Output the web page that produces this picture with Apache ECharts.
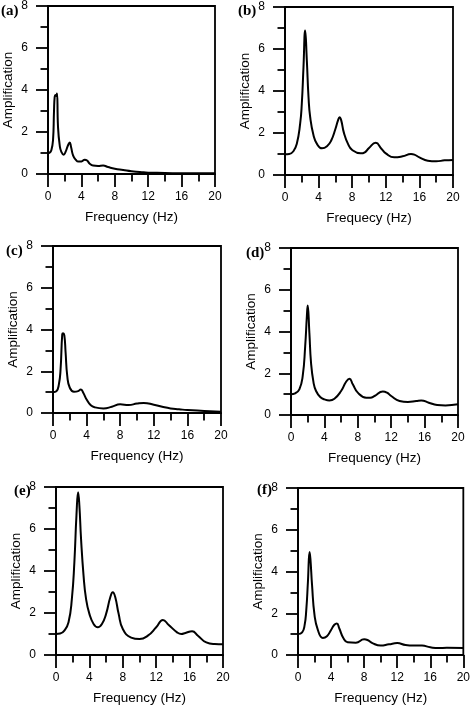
<!DOCTYPE html>
<html>
<head>
<meta charset="utf-8">
<script src="https://cdn.jsdelivr.net/npm/echarts@6/dist/echarts.min.js"></script>
<style>
html,body{margin:0;padding:0;background:#fff;}
#chart{width:473px;height:707px;}
</style>
</head>
<body>
<div id="chart"></div>
<script>
// Panel labels and axis titles
const panelLabels = ['(a)', '(b)', '(c)', '(d)', '(e)', '(f)'];
const xTitles = ['Frequency (Hz)', 'Frequecy (Hz)', 'Frequency (Hz)', 'Frequency (Hz)', 'Frequency (Hz)', 'Frequency (Hz)'];
const yTitle = 'Amplification';

// (a)
const freqA = [0, 0.2, 0.4, 0.6, 0.72, 0.8, 0.9, 1.0, 1.08, 1.2, 1.4, 1.6, 1.88, 2.1, 2.4, 2.6, 2.76, 3.0, 3.32, 3.64, 4.0, 4.4, 4.68, 5.0, 5.4, 6.0, 6.6, 7.2, 8, 9, 10, 11, 12, 14, 16, 18, 20];
const ampA  = [1.0, 1.02, 1.13, 1.6, 3.0, 3.67, 3.76, 3.72, 3.83, 2.24, 1.37, 1.05, 0.92, 1.05, 1.37, 1.5, 1.29, 0.89, 0.68, 0.59, 0.6, 0.68, 0.64, 0.49, 0.4, 0.38, 0.4, 0.33, 0.25, 0.19, 0.13, 0.1, 0.06, 0.05, 0.03, 0.03, 0.03];
// (b)
const freqB = [0, 0.5, 1.0, 1.4, 1.8, 2.0, 2.2, 2.4, 2.6, 2.8, 3.0, 3.4, 3.8, 4.4, 5.0, 5.5, 6.0, 6.3, 6.5, 6.7, 7.0, 7.5, 8.0, 9.0, 9.5, 10.0, 10.8, 11.5, 12.0, 13.0, 14.0, 15.0, 15.4, 16.0, 17.0, 18.0, 19.0, 20.0];
const ampB  = [0.99, 1.0, 1.13, 1.48, 2.43, 3.39, 5.13, 6.88, 5.45, 3.7, 2.75, 1.88, 1.48, 1.27, 1.37, 1.64, 2.19, 2.59, 2.75, 2.59, 2.03, 1.48, 1.19, 1.03, 1.08, 1.29, 1.53, 1.24, 1.03, 0.84, 0.89, 1.0, 0.97, 0.84, 0.68, 0.65, 0.7, 0.72];
// (c)
const freqC = [0, 0.4, 0.7, 0.9, 1.1, 1.2, 1.35, 1.5, 1.7, 2.0, 2.5, 3.0, 3.3, 3.6, 4.0, 4.5, 5.0, 6.0, 7.0, 8.0, 9.0, 10.0, 10.8, 12.0, 13.0, 14.0, 15.0, 16.0, 18.0, 20.0];
const ampC  = [1.0, 1.04, 1.37, 2.09, 3.77, 3.82, 3.72, 2.9, 1.77, 1.21, 1.02, 1.05, 1.13, 0.97, 0.65, 0.37, 0.27, 0.22, 0.3, 0.42, 0.38, 0.45, 0.48, 0.4, 0.3, 0.22, 0.18, 0.14, 0.1, 0.06];
// (d)
const freqD = [0, 0.5, 1.0, 1.4, 1.7, 1.9, 2.0, 2.2, 2.4, 2.7, 3.0, 3.5, 4.0, 4.6, 5.2, 6.0, 6.6, 7.0, 7.4, 8.0, 9.0, 9.5, 10.0, 11.0, 11.5, 12.0, 13.0, 14.0, 15.0, 15.6, 16.5, 17.5, 18.5, 20.0];
const ampD  = [1.0, 1.04, 1.23, 1.86, 3.3, 4.73, 5.24, 3.94, 2.5, 1.55, 1.15, 0.86, 0.75, 0.7, 0.78, 1.15, 1.59, 1.74, 1.47, 1.07, 0.83, 0.83, 0.91, 1.13, 1.07, 0.91, 0.67, 0.62, 0.67, 0.7, 0.59, 0.48, 0.46, 0.51];
// (e)
const freqE = [0, 0.5, 1.0, 1.5, 1.9, 2.2, 2.45, 2.65, 2.8, 3.0, 3.3, 3.6, 4.0, 4.5, 5.0, 5.5, 6.0, 6.5, 6.8, 7.1, 7.5, 8.0, 9.0, 10.0, 11.0, 12.0, 12.8, 13.5, 14.5, 15.0, 15.5, 16.3, 17.0, 18.0, 19.0, 20.0];
const ampE  = [1.0, 1.02, 1.16, 1.56, 2.67, 4.42, 6.65, 7.75, 7.12, 5.53, 3.78, 2.67, 1.96, 1.48, 1.32, 1.48, 1.96, 2.75, 2.99, 2.75, 1.96, 1.24, 0.83, 0.76, 0.92, 1.32, 1.67, 1.43, 1.08, 1.0, 1.05, 1.13, 0.92, 0.6, 0.52, 0.51];
// (f)
const freqF = [0, 0.5, 0.8, 1.0, 1.2, 1.4, 1.5, 1.7, 2.0, 2.4, 3.0, 3.5, 4.0, 4.4, 4.7, 5.0, 5.5, 6.0, 7.0, 8.0, 8.4, 9.0, 10.0, 11.0, 12.0, 13.0, 14.0, 15.0, 16.0, 17.0, 18.0, 20.0];
const ampF  = [1.0, 1.08, 1.43, 2.15, 3.5, 4.94, 4.62, 3.35, 1.91, 1.2, 0.82, 0.9, 1.2, 1.45, 1.51, 1.27, 0.8, 0.61, 0.59, 0.75, 0.72, 0.57, 0.45, 0.51, 0.57, 0.48, 0.45, 0.45, 0.37, 0.33, 0.35, 0.33];

const freqs = [freqA, freqB, freqC, freqD, freqE, freqF];
const amps = [ampA, ampB, ampC, ampD, ampE, ampF];

// Layout (pixels)
const grids = [
  {left: 48, top: 6, width: 167, height: 168},
  {left: 285, top: 7, width: 168, height: 168},
  {left: 53, top: 246, width: 168, height: 167},
  {left: 291, top: 248, width: 167, height: 167},
  {left: 56, top: 487, width: 167, height: 168},
  {left: 298, top: 488, width: 168, height: 167}
];
const labelPos = [[1, 4], [238, 4], [6, 244], [246, 246], [14, 484], [257, 483]];

const axisFont = 'Liberation Sans, Arial, sans-serif';
const lineStyle = {color: '#000', width: 1.8};

const xAxes = [], yAxes = [], series = [], graphics = [];
for (let i = 0; i < 6; i++) {
  xAxes.push({
    type: 'value', gridIndex: i, min: 0, max: 20, interval: 4,
    name: xTitles[i], nameLocation: 'middle', nameGap: 36,
    nameTextStyle: {fontFamily: axisFont, fontSize: 13.5, color: '#000'},
    axisLine: {show: true, onZero: false, lineStyle: lineStyle},
    axisTick: {show: true, inside: false, length: 13, lineStyle: lineStyle},
    minorTick: {show: true, splitNumber: 2, length: 7.5, lineStyle: lineStyle},
    axisLabel: {fontFamily: axisFont, fontSize: 12, color: '#000', margin: 17},
    splitLine: {show: false}
  });
  yAxes.push({
    type: 'value', gridIndex: i, min: 0, max: 8, interval: 2,
    name: yTitle, nameLocation: 'middle', nameGap: 33,
    nameTextStyle: {fontFamily: axisFont, fontSize: 13.5, color: '#000'},
    axisLine: {show: true, onZero: false, lineStyle: lineStyle},
    axisTick: {show: true, inside: false, length: 12, lineStyle: lineStyle},
    minorTick: {show: true, splitNumber: 2, length: 7.5, lineStyle: lineStyle},
    axisLabel: {fontFamily: axisFont, fontSize: 12, color: '#000', margin: 20, align: 'right'},
    splitLine: {show: false}
  });
  series.push({
    type: 'line', xAxisIndex: i, yAxisIndex: i,
    data: freqs[i].map((f, k) => [f, amps[i][k]]),
    showSymbol: false, smooth: 0.5,
    lineStyle: {color: '#000', width: 2},
    silent: true, animation: false
  });
  graphics.push({
    type: 'text', left: labelPos[i][0], top: labelPos[i][1],
    style: {text: panelLabels[i], font: 'bold 15px "Liberation Serif", "Times New Roman", serif', fill: '#000'}
  });
}

const chart = echarts.init(document.getElementById('chart'), null, {renderer: 'canvas'});
chart.setOption({
  animation: false,
  backgroundColor: '#fff',
  grid: grids.map(g => Object.assign({show: true, borderColor: '#000', borderWidth: 1.8, backgroundColor: 'transparent'}, g)),
  xAxis: xAxes,
  yAxis: yAxes,
  series: series,
  graphic: graphics
});
</script>
</body>
</html>
